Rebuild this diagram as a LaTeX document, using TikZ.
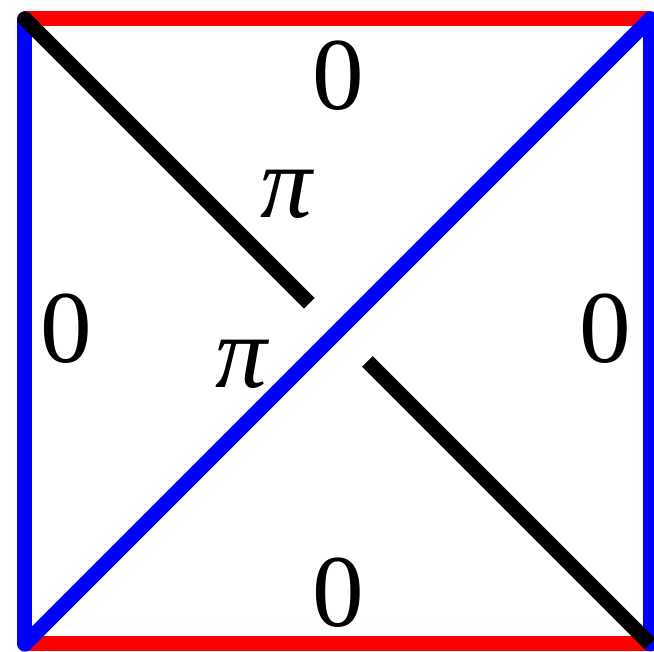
\documentclass[tikz,border=0pt]{standalone}
\usepackage{fontspec}
\setmainfont{Liberation Serif}
\usepackage{tikz}
\usetikzlibrary{calc}
\definecolor{EdgeRed}{HTML}{FF0000}
\definecolor{EdgeBlue}{HTML}{0000FF}

\begin{document}
\begin{tikzpicture}[
    font=\fontsize{47}{50}\selectfont,
    redline/.style={draw=EdgeRed, line width=0.24cm, line cap=round},
    blueline/.style={draw=EdgeBlue, line width=0.24cm, line cap=round},
    blackline/.style={draw=black, line width=0.24cm},
    lbl/.style={inner sep=0pt, anchor=center}
]
\useasboundingbox (-0.4,-0.128) rectangle (10.064,10.304);

\coordinate (tl) at (0,10);
\coordinate (tr) at (10,10);
\coordinate (bl) at (0,0);
\coordinate (br) at (10,0);
\coordinate (gapA) at ($(tl)!0.455!(br)$);
\coordinate (gapB) at ($(tl)!0.548!(br)$);

\draw[redline] (tl) -- (tr);
\draw[redline] (bl) -- (br);
\draw[blueline] (tl) -- (bl);
\draw[blueline] (tr) -- (br);
\draw[blueline] (bl) -- (tr);
\draw[blackline] (tl) -- (gapA);
\draw[blackline] (gapB) -- (br);
\fill (tl) circle (0.12cm);

\node[lbl] (top) at (5.01,9.09) {0};
\node[lbl] (bottom) at (5.01,0.82) {0};
\node[lbl] (left) at (0.66,5.04) {0};
\node[lbl] (right) at (9.28,5.04) {0};
\node[lbl] (piup) at (4.18,7.2) {\itshape π};
\node[lbl] (pilow) at (3.46,4.48) {\itshape π};
\end{tikzpicture}
\end{document}
